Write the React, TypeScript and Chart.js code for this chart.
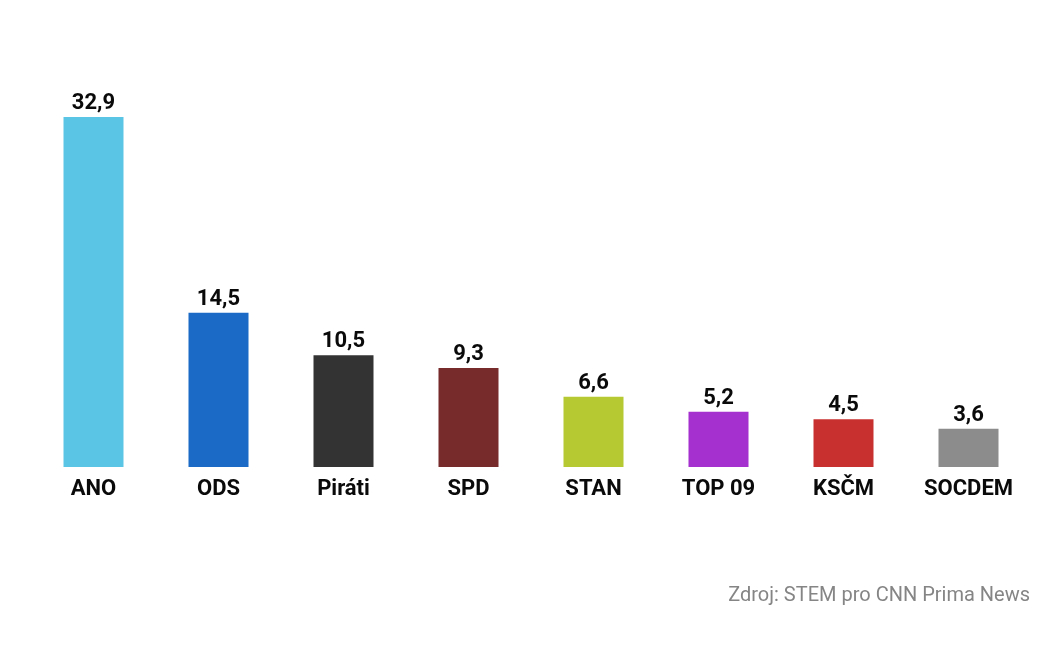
import React, { useEffect, useRef } from "react";
import { Chart, registerables } from "chart.js";

Chart.register(...registerables);

const categories = ["ANO", "ODS", "Piráti", "SPD", "STAN", "TOP 09", "KSČM", "SOCDEM"];
const values = [32.9, 14.5, 10.5, 9.3, 6.6, 5.2, 4.5, 3.6];
const colors = ["#5BC5E5", "#1B6AC6", "#333333", "#772B2B", "#B6C932", "#A52FCF", "#C8302F", "#8C8C8C"];
const sourceText = "Zdroj: STEM pro CNN Prima News";

const FONT = "Roboto, 'Noto Sans', sans-serif";

const labelsPlugin = {
  id: "labelsPlugin",
  afterDatasetsDraw(chart: any) {
    const ctx = chart.ctx;
    const meta = chart.getDatasetMeta(0);
    const xScale = chart.scales.x;
    const area = chart.chartArea;
    ctx.save();
    ctx.fillStyle = "#0a0a0a";
    ctx.textAlign = "center";
    ctx.textBaseline = "alphabetic";
    ctx.font = `bold 22px ${FONT}`;
    meta.data.forEach((bar: any, i: number) => {
      const txt = values[i].toFixed(1).replace(".", ",");
      ctx.fillText(txt, bar.x, bar.y - 8);
    });
    categories.forEach((c, i) => {
      const x = xScale.getPixelForValue(i);
      ctx.fillText(c, x, area.bottom + 28);
    });
    ctx.font = `20px ${FONT}`;
    ctx.fillStyle = "#858585";
    ctx.textAlign = "right";
    ctx.fillText(sourceText, 1030, 601);
    ctx.restore();
  },
};

export default function App() {
  const ref = useRef<HTMLCanvasElement | null>(null);
  useEffect(() => {
    if (!ref.current) return;
    const chart = new Chart(ref.current, {
      type: "bar",
      data: {
        labels: categories,
        datasets: [
          {
            data: values,
            backgroundColor: colors,
            borderWidth: 0,
            barPercentage: 1,
            categoryPercentage: 0.48,
          },
        ],
      },
      options: {
        animation: false,
        responsive: false,
        maintainAspectRatio: false,
        layout: { padding: { left: 31, right: 29, top: 41.5, bottom: 178 } },
        plugins: { legend: { display: false }, tooltip: { enabled: false } },
        scales: {
          x: { display: false },
          y: { display: false, min: 0, max: 40 },
        },
      },
      plugins: [labelsPlugin],
    });
    return () => chart.destroy();
  }, []);
  return (
    <div style={{ position: "absolute", left: 0, top: 0, width: 1060, height: 645, background: "#fff" }}>
      <canvas ref={ref} width={1060} height={645} style={{ width: 1060, height: 645 }} />
    </div>
  );
}
